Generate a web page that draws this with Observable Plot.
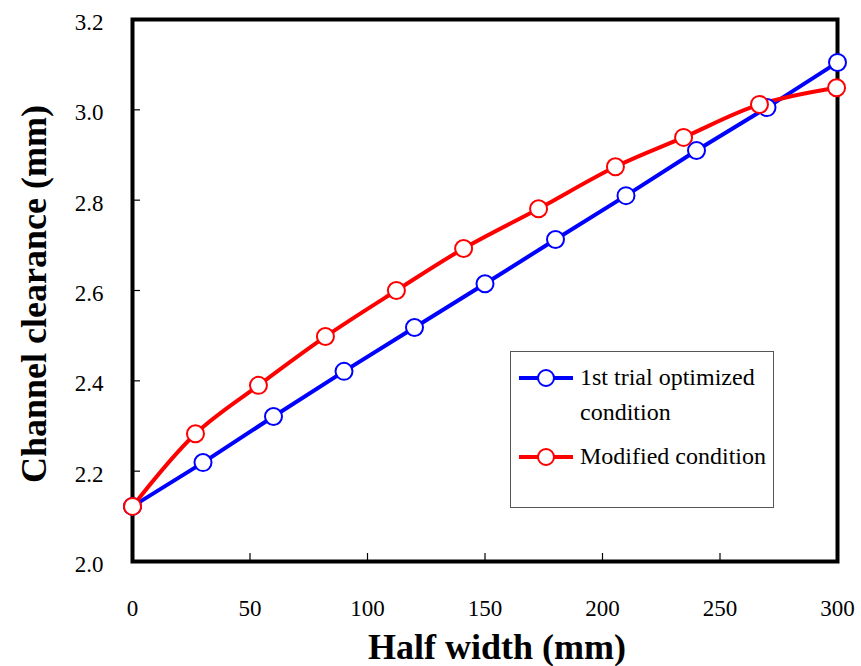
<!DOCTYPE html>
<html>
<head>
<meta charset="utf-8">
<script src="https://cdn.jsdelivr.net/npm/d3@7"></script>
<script src="https://cdn.jsdelivr.net/npm/@observablehq/plot@0.6"></script>
<style>
  body { margin: 0; background: #fff; }
  #wrap { position: relative; width: 861px; height: 666px; }
  #wrap, #wrap * { font-family: "Liberation Serif", "Times New Roman", serif; }
  #legend { position: absolute; left: 510px; top: 351px; width: 264px; height: 157px; border: 1px solid #555; background: #fff; box-sizing: border-box; }
  .li { position: absolute; left: 7px; display: flex; align-items: flex-start; font-size: 24px; line-height: 35px; color: #000; }
  .li svg { flex: none; margin-top: 8px; }
  .li span { margin-left: 6px; }
</style>
</head>
<body>
<div id="wrap"></div>
<script>
const blueX = [0, 30, 60, 90, 120, 150, 180, 210, 240, 270, 300];
const blueY = [2.122, 2.219, 2.321, 2.421, 2.518, 2.615, 2.713, 2.81, 2.91, 3.005, 3.105];
const redX = [0, 26.8, 53.6, 82.1, 112.3, 140.9, 172.8, 205.5, 234.5, 266.8, 299.6];
const redY = [2.122, 2.283, 2.39, 2.498, 2.6, 2.693, 2.781, 2.874, 2.939, 3.012, 3.049];
const xTicks = [0, 50, 100, 150, 200, 250, 300];
const yTicks = [2.0, 2.2, 2.4, 2.6, 2.8, 3.0, 3.2];
const seriesNames = ["1st trial optimized condition", "Modified condition"];
const seriesColors = ["#0000ff", "#ff0000"];

const serif = '"Liberation Serif", "Times New Roman", serif';
const blue = blueX.map((x, i) => ({x, y: blueY[i]}));
const red = redX.map((x, i) => ({x, y: redY[i]}));

const plot = Plot.plot({
  width: 861,
  height: 666,
  marginLeft: 132,
  marginRight: 24,
  marginTop: 19,
  marginBottom: 105,
  style: {fontFamily: serif, background: "#fff", overflow: "visible"},
  x: {domain: [0, 300]},
  y: {domain: [2.0, 3.2]},
  marks: [
    Plot.axisX({ticks: xTicks, tickSize: -8, tickPadding: 46, tickFormat: d => String(d), fontSize: 23, fontFamily: serif, label: null, stroke: "#000", strokeWidth: 1.2}),
    Plot.axisY({ticks: yTicks, tickSize: -8, text: null, label: null, stroke: "#000", strokeWidth: 1.2}),
    Plot.axisY({ticks: yTicks, tickSize: 0, tickPadding: 29, dy: 3, tickFormat: d => d.toFixed(1), fontSize: 23, fontFamily: serif, label: null}),
    Plot.frame({stroke: "#000", strokeWidth: 4}),
    Plot.line(blue, {x: "x", y: "y", stroke: seriesColors[0], strokeWidth: 4}),
    Plot.line(red, {x: "x", y: "y", stroke: seriesColors[1], strokeWidth: 4, curve: "catmull-rom"}),
    Plot.dot(blue, {x: "x", y: "y", r: 8.5, fill: "#fff", stroke: seriesColors[0], strokeWidth: 2}),
    Plot.dot(red, {x: "x", y: "y", r: 8.5, fill: "#fff", stroke: seriesColors[1], strokeWidth: 2})
  ]
});

const svg = d3.select(plot);
svg.selectAll("text").style("font-family", serif);
svg.append("text")
  .attr("x", 497).attr("y", 659)
  .attr("text-anchor", "middle")
  .style("font-family", serif)
  .attr("font-size", 36).attr("font-weight", "bold")
  .attr("fill", "#000")
  .text("Half width (mm)");
svg.append("text")
  .attr("transform", "translate(46,294) rotate(-90)")
  .attr("text-anchor", "middle")
  .style("font-family", serif)
  .attr("font-size", 36).attr("font-weight", "bold")
  .attr("fill", "#000")
  .text("Channel clearance (mm)");

const wrap = document.getElementById("wrap");
wrap.appendChild(plot);

const legend = document.createElement("div");
legend.id = "legend";
const lines = [["1st trial optimized", "condition"], ["Modified condition"]];
const tops = [8, 87];
lines.forEach((txt, i) => {
  const item = document.createElement("div");
  item.className = "li";
  item.style.top = tops[i] + "px";
  item.innerHTML = `<svg width="56" height="20"><line x1="1" y1="10" x2="55" y2="10" stroke="${seriesColors[i]}" stroke-width="4"/><circle cx="28" cy="10" r="8" fill="#fff" stroke="${seriesColors[i]}" stroke-width="2"/></svg><span>${txt.join("<br>")}</span>`;
  legend.appendChild(item);
});
wrap.appendChild(legend);
</script>
</body>
</html>
